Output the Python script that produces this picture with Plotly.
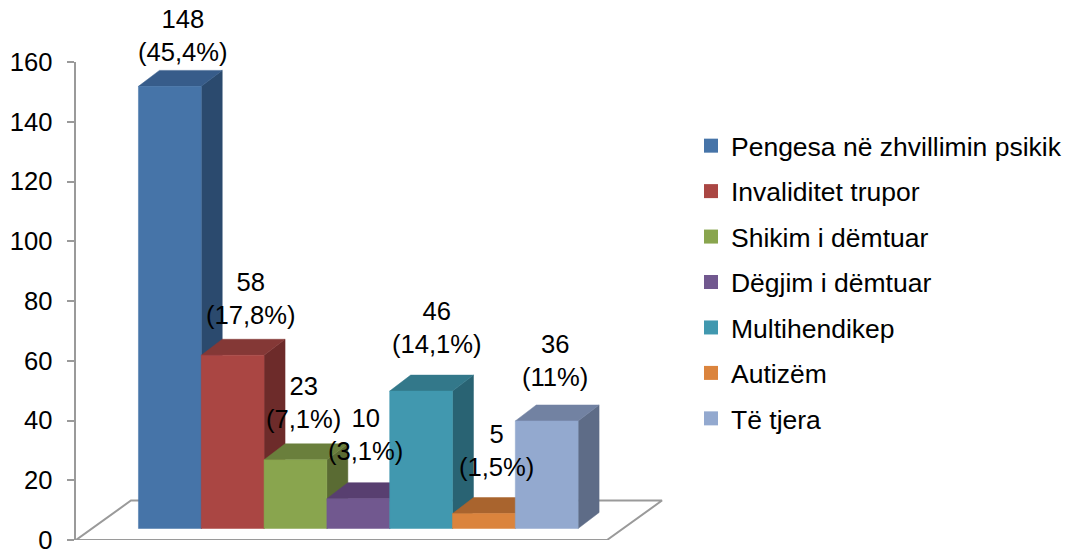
import plotly.graph_objects as go

categories = ["Pengesa në zhvillimin psikik", "Invaliditet trupor", "Shikim i dëmtuar",
              "Dëgjim i dëmtuar", "Multihendikep", "Autizëm", "Të tjera"]
values = [148, 58, 23, 10, 46, 5, 36]
percents = ["45,4%", "17,8%", "7,1%", "3,1%", "14,1%", "1,5%", "11%"]
y_ticks = [0, 20, 40, 60, 80, 100, 120, 140, 160]

front_colors = ["#4674A8", "#AA4643", "#89A54E", "#71588F", "#4198AF", "#DB843D", "#93A9CF"]
top_colors = ["#375C8A", "#843836", "#6A7F3C", "#583F70", "#33788A", "#A9642E", "#7282A2"]
side_colors = ["#2B4A6E", "#6D2B2A", "#5A6B33", "#4A355E", "#296373", "#8C5326", "#5E6C87"]

# pixel layout of the plot
W, H = 1067, 551
PL, PR, PT, PB = 75.5, 680, 62, 540.5
SLOT = 62.86            # pixels per bar
UNIT = (PB - PT) / 160  # pixels per value unit
X0 = 138                # left edge of first bar
xr = [(PL - X0) / SLOT, (PR - X0) / SLOT]
base = 11.5 / UNIT
dx, dy = 21 / SLOT, 16 / UNIT
fx0, fx1 = (PL - X0) / SLOT, (607 - X0) / SLOT
fdx, fdy = 55 / SLOT, 39.5 / UNIT
tick = 7.5 / UNIT

label_dx = [13, 18, 8, 7, 16, 13, 8]
label_dy = [-51, -57, -57, -64, -64, -63, -60]
FONT = "Liberation Sans, Arial, sans-serif"
GREY = "#9A9A9A"

fig = go.Figure()


def poly(xs, ys, color, line=None):
    fig.add_trace(go.Scatter(x=xs, y=ys, mode="lines", fill="toself", fillcolor=color,
                             line=line or dict(color=color, width=0.5),
                             hoverinfo="skip", showlegend=False, cliponaxis=False))


# floor
poly([fx0, fx1, fx1 + fdx, fx0 + fdx, fx0], [0, 0, fdy, fdy, 0], "#FFFFFF",
     dict(color=GREY, width=2))
fig.add_trace(go.Scatter(x=[fx0, fx0, None, fx1, fx1], y=[0, -tick, None, 0, -tick], mode="lines",
                         line=dict(color=GREY, width=2), hoverinfo="skip",
                         showlegend=False, cliponaxis=False))

for i, v in enumerate(values):
    l, r, b, t = i, i + 1, base, base + v
    poly([r, r + dx, r + dx, r, r], [b, b + dy, t + dy, t, b], side_colors[i])
    poly([l, r, r + dx, l + dx, l], [t, t, t + dy, t + dy, t], top_colors[i])
    poly([l, r, r, l, l], [b, b, t, t, b], front_colors[i])

# legend entries
for i, name in enumerate(categories):
    fig.add_trace(go.Scatter(x=[None], y=[None], mode="markers", name=name, legendgroup=name,
                             marker=dict(symbol="square", size=14, color=front_colors[i])))

for i, v in enumerate(values):
    fig.add_annotation(x=i + 0.5, y=base + v, text=f"{v}<br>({percents[i]})", showarrow=False,
                       xshift=label_dx[i], yshift=-label_dy[i], xanchor="center", yanchor="middle",
                       font=dict(size=25.6, color="#000000", family=FONT))

fig.update_layout(
    width=W, height=H, autosize=False, paper_bgcolor="#FFFFFF", plot_bgcolor="#FFFFFF",
    margin=dict(l=PL, r=W - PR, t=PT, b=H - PB, pad=0, autoexpand=False),
    font=dict(family=FONT, color="#000000"),
    xaxis=dict(range=xr, visible=False, fixedrange=True),
    yaxis=dict(range=[0, 160], tickmode="array", tickvals=y_ticks, ticks="outside", ticklen=7.5,
               tickwidth=2, tickcolor=GREY, showline=True, linecolor=GREY, linewidth=2,
               showgrid=False, zeroline=False, ticklabelstandoff=9, automargin=False,
               ticklabeloverflow="allow",
               tickfont=dict(size=25.6, color="#000000", family=FONT), fixedrange=True),
    legend=dict(x=(698 - PL) / (PR - PL), y=(PB - 122) / (PB - PT), xanchor="left", yanchor="top",
                font=dict(size=26.5, color="#000000", family=FONT), traceorder="grouped",
                tracegroupgap=8, indentation=-7, bgcolor="rgba(0,0,0,0)",
                itemclick=False, itemdoubleclick=False),
)
fig.write_html("out.html", config={"displayModeBar": False},
               post_script="document.body.style.margin='0';")
